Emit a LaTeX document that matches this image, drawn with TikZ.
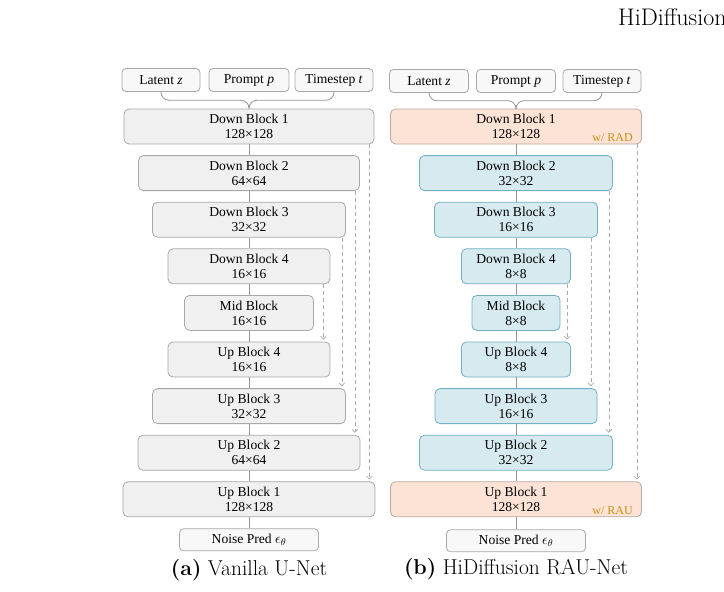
\documentclass[tikz,border=0pt]{standalone}
\usepackage{fontspec}
\newfontfamily\blockfont{Liberation Serif}
\usepackage{tikz}
\usetikzlibrary{arrows,calc,positioning}
\definecolor{grayfill}{RGB}{240,240,240}
\definecolor{grayline}{RGB}{168,168,168}
\definecolor{inputfill}{RGB}{248,248,248}
\definecolor{bluefill}{RGB}{214,234,240}
\definecolor{blueline}{RGB}{112,176,192}
\definecolor{peachfill}{RGB}{252,227,213}
\definecolor{peachline}{RGB}{186,170,160}
\definecolor{trunkline}{RGB}{150,150,150}
\definecolor{dashline}{RGB}{172,172,172}
\definecolor{tagcolor}{RGB}{200,145,20}
\tikzset{
	gblock/.style = {draw=grayline, fill=grayfill, rounded corners=5pt, line width=0.8pt, minimum height=35pt, minimum width=#1, inner sep=0pt, align=center, font=\blockfont\fontsize{13.6}{15}\selectfont},
	bblock/.style = {gblock=#1, draw=blueline, fill=bluefill},
	pblock/.style = {gblock=#1, draw=peachline, fill=peachfill},
	inbox/.style = {draw=grayline, fill=inputfill, rounded corners=4pt, line width=0.8pt, minimum height=23pt, minimum width=#1, inner sep=0pt, font=\blockfont\fontsize{13.6}{15}\selectfont},
	trunk/.style = {draw=trunkline, line width=0.8pt},
	skipline/.style = {draw=dashline, line width=0.7pt, dash pattern=on 4pt off 3pt, -angle 90, shorten >=2pt},
	tag/.style = {font=\blockfont\fontsize{12}{14}\selectfont, text=tagcolor, anchor=base east, inner sep=0pt},
	caption/.style = {font=\fontsize{21.5}{24}\selectfont, inner sep=0pt}
}

\begin{document}
\begin{tikzpicture}[x=1pt,y=-1pt]
	\path[use as bounding box, fill=white] (0,0) rectangle (724,592);
	\node[anchor=base west, inner sep=0pt, font=\fontsize{24}{28}\selectfont] (hdr) at (618,25) {HiDiffusion};

	% (a) vanilla U-Net
	\node [inbox=80pt] (lp) at (249,80) {Prompt \textit{p}};
	\node [inbox=78pt, left of=lp, node distance=88pt] (lz) {Latent \textit{z}};
	\node [inbox=78pt, right of=lp, node distance=85pt] (lt) {Timestep \textit{t}};
	\node [gblock=250pt] (ld1) at (249,126.5) {Down Block 1\\128×128};
	\node [gblock=221pt, below of=ld1, node distance=46.6pt] (ld2) {Down Block 2\\64×64};
	\node [gblock=193pt, below of=ld2, node distance=46.6pt] (ld3) {Down Block 3\\32×32};
	\node [gblock=162pt, below of=ld3, node distance=46.6pt] (ld4) {Down Block 4\\16×16};
	\node [gblock=129pt, below of=ld4, node distance=46.6pt] (lm) {Mid Block\\16×16};
	\node [gblock=162pt, below of=lm, node distance=46.6pt] (lu4) {Up Block 4\\16×16};
	\node [gblock=193pt, below of=lu4, node distance=46.6pt] (lu3) {Up Block 3\\32×32};
	\node [gblock=222pt, below of=lu3, node distance=46.6pt] (lu2) {Up Block 2\\64×64};
	\node [gblock=252pt, below of=lu2, node distance=46.6pt] (lu1) {Up Block 1\\128×128};
	\node [inbox=139pt, minimum height=22pt, below of=lu1, node distance=40.5pt] (lnp) {Noise Pred $\epsilon_\theta$};
	\node [caption] (capa) at (249,570) {\textbf{(a)} Vanilla U-Net};

	\draw [trunk, rounded corners=8pt] (lz.south) |- ($(lp.south)!0.5!(ld1.north)$) -- (ld1.north);
	\draw [trunk, rounded corners=8pt] (lt.south) |- ($(lp.south)!0.5!(ld1.north)$) -- (ld1.north);
	\draw [trunk] (ld1) -- (ld2);
	\draw [trunk] (ld2) -- (ld3);
	\draw [trunk] (ld3) -- (ld4);
	\draw [trunk] (ld4) -- (lm);
	\draw [trunk] (lm) -- (lu4);
	\draw [trunk] (lu4) -- (lu3);
	\draw [trunk] (lu3) -- (lu2);
	\draw [trunk] (lu2) -- (lu1);
	\draw [trunk] (lu1) -- (lnp);

	\coordinate (ls1) at ($(ld1.south east)+(-5,0)$);
	\coordinate (ls2) at ($(ld2.south east)+(-5,0)$);
	\coordinate (ls3) at ($(ld3.south east)+(-4,0)$);
	\coordinate (ls4) at ($(ld4.south east)+(-7,0)$);
	\draw [skipline] (ls1) -- (ls1 |- lu1.north);
	\draw [skipline] (ls2) -- (ls2 |- lu2.north);
	\draw [skipline] (ls3) -- (ls3 |- lu3.north);
	\draw [skipline] (ls4) -- (ls4 |- lu4.north);

	% (b) HiDiffusion RAU-Net
	\node [inbox=79pt] (rp) at (516,81) {Prompt \textit{p}};
	\node [inbox=79pt, left of=rp, node distance=87pt] (rz) {Latent \textit{z}};
	\node [inbox=78pt, right of=rp, node distance=86pt] (rt) {Timestep \textit{t}};
	\node [pblock=251pt] (rd1) at (516,126.5) {Down Block 1\\128×128};
	\node [bblock=193pt, below of=rd1, node distance=46.6pt] (rd2) {Down Block 2\\32×32};
	\node [bblock=163pt, below of=rd2, node distance=46.6pt] (rd3) {Down Block 3\\16×16};
	\node [bblock=109pt, below of=rd3, node distance=46.6pt] (rd4) {Down Block 4\\8×8};
	\node [bblock=88pt, below of=rd4, node distance=46.6pt] (rm) {Mid Block\\8×8};
	\node [bblock=109pt, below of=rm, node distance=46.6pt] (ru4) {Up Block 4\\8×8};
	\node [bblock=162pt, below of=ru4, node distance=46.6pt] (ru3) {Up Block 3\\16×16};
	\node [bblock=193pt, below of=ru3, node distance=46.6pt] (ru2) {Up Block 2\\32×32};
	\node [pblock=251pt, below of=ru2, node distance=46.6pt] (ru1) {Up Block 1\\128×128};
	\node [inbox=139pt, minimum height=22pt, below of=ru1, node distance=41.5pt] (rnp) {Noise Pred $\epsilon_\theta$};
	\node [caption] (capb) at (516,569) {\textbf{(b)} HiDiffusion RAU-Net};

	\node [tag] (rad) at ($(rd1.south east)+(-9,-2.5)$) {w/ RAD};
	\node [tag] (rau) at ($(ru1.south east)+(-9,-2.5)$) {w/ RAU};

	\draw [trunk, rounded corners=8pt] (rz.south) |- ($(rp.south)!0.5!(rd1.north)$) -- (rd1.north);
	\draw [trunk, rounded corners=8pt] (rt.south) |- ($(rp.south)!0.5!(rd1.north)$) -- (rd1.north);
	\draw [trunk] (rd1) -- (rd2);
	\draw [trunk] (rd2) -- (rd3);
	\draw [trunk] (rd3) -- (rd4);
	\draw [trunk] (rd4) -- (rm);
	\draw [trunk] (rm) -- (ru4);
	\draw [trunk] (ru4) -- (ru3);
	\draw [trunk] (ru3) -- (ru2);
	\draw [trunk] (ru2) -- (ru1);
	\draw [trunk] (ru1) -- (rnp);

	\coordinate (rs1) at ($(rd1.south east)+(-5,0)$);
	\coordinate (rs2) at ($(rd2.south east)+(-4,0)$);
	\coordinate (rs3) at ($(rd3.south east)+(-7,0)$);
	\coordinate (rs4) at ($(rd4.south east)+(-4,0)$);
	\draw [skipline] (rs1) -- (rs1 |- ru1.north);
	\draw [skipline] (rs2) -- (rs2 |- ru2.north);
	\draw [skipline] (rs3) -- (rs3 |- ru3.north);
	\draw [skipline] (rs4) -- (rs4 |- ru4.north);
\end{tikzpicture}
\end{document}
